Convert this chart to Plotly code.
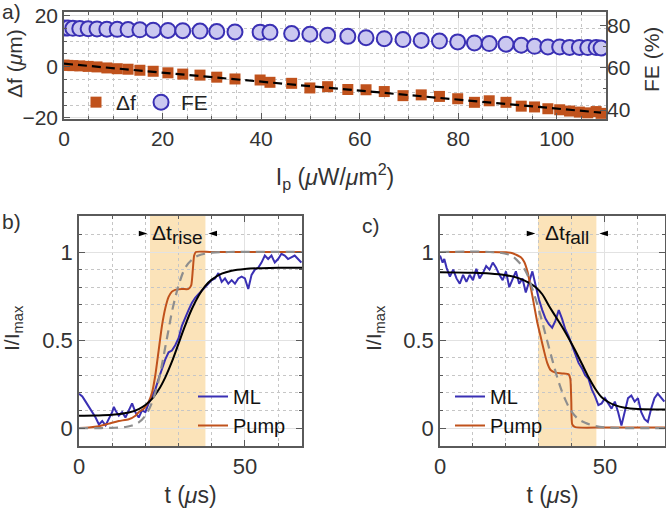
import numpy as np
import plotly.graph_objects as go

# ---------------- Panel a data ----------------
ip = [0, 0.8, 1.8, 3.2, 4.9, 6.7, 8.7, 10.8, 13.0, 15.4, 18.1, 21.1, 24.1, 27.6, 31.0, 34.7,
      39.8, 41.8, 46.2, 49.9, 53.5, 57.6, 61.3, 65.0, 68.8, 72.5, 76.2, 79.9, 83.3, 86.3,
      89.7, 92.8, 95.5, 98.2, 100.6, 102.6, 104.6, 106.3, 108.0, 109.0]
delta_f = [0.6, 0.5, 0.4, 0.3, 0.1, -0.1, -0.5, -0.8, -1.0, -1.4, -1.8, -2.4, -2.9, -3.3, -4.1,
           -4.8, -5.2, -6.1, -6.5, -8.3, -7.8, -8.9, -9.0, -9.7, -11.3, -11.0, -11.6, -12.5,
           -13.9, -13.3, -13.9, -15.4, -15.7, -16.4, -16.8, -17.3, -17.7, -18.0, -17.5, -18.2]
fe = [78.8, 78.7, 78.6, 78.5, 78.4, 78.3, 78.2, 78.1, 78.0, 77.9, 77.7, 77.6, 77.5, 77.3, 77.1,
      76.9, 76.8, 76.7, 76.1, 75.8, 75.3, 74.8, 74.2, 73.7, 73.3, 72.9, 72.6, 72.2, 71.7, 71.4,
      71.1, 70.6, 70.1, 69.8, 69.8, 69.6, 69.6, 69.5, 69.5, 69.3]

# ---------------- Panel b data (rise) ----------------
t_ml_b = [0, 1, 2, 3, 4, 5, 6, 7, 8, 9, 10, 10.5, 11, 12, 13, 14, 15, 16, 17, 18, 19, 20, 21,
          22, 23, 24, 25, 26, 27, 28, 29, 30, 31, 32, 33, 34, 35, 36, 37, 38, 39, 40, 41, 42,
          43, 44, 45, 46, 47, 48, 49, 50, 51, 52, 53, 54, 55, 56, 57, 58, 59, 60, 61, 62, 63,
          64, 65, 66, 67]
ml_b = [0.195, 0.18, 0.15, 0.12, 0.09, 0.06, 0.02, 0.04, 0.015, 0.05, 0.09, 0.12, 0.10, 0.07,
        0.09, 0.06, 0.10, 0.14, 0.09, 0.06, 0.10, 0.09, 0.14, 0.18, 0.22, 0.28, 0.34, 0.39,
        0.43, 0.44, 0.47, 0.51, 0.58, 0.63, 0.67, 0.71, 0.74, 0.76, 0.78, 0.80, 0.82, 0.84,
        0.85, 0.88, 0.83, 0.85, 0.82, 0.84, 0.82, 0.85, 0.86, 0.85, 0.79, 0.87, 0.90, 0.91,
        0.94, 0.98, 0.96, 0.98, 0.94, 0.96, 0.99, 0.98, 0.96, 0.97, 0.98, 0.96, 0.94]
t_pump_b = [0, 3, 6, 9, 12, 15, 17, 18, 19.5, 21, 22, 23, 24, 25, 26, 27, 28, 29, 31, 33,
            33.8, 34.3, 34.7, 35.2, 40, 67.2]
pump_b = [0.0, 0.003, 0.01, 0.025, 0.04, 0.05, 0.07, 0.09, 0.11, 0.15, 0.2, 0.3, 0.44, 0.58,
          0.68, 0.745, 0.775, 0.785, 0.79, 0.79, 0.81, 0.9, 0.98, 1.0, 1.0, 1.0]
t_fit_b = [0, 5, 10, 15, 18, 20, 22, 24, 26, 28, 30, 32, 34, 36, 38, 40, 43, 46, 50, 55, 60, 67.2]
fit_ml_b = [0.07, 0.071, 0.075, 0.088, 0.108, 0.131, 0.166, 0.217, 0.288, 0.377, 0.48, 0.583,
            0.676, 0.75, 0.806, 0.843, 0.877, 0.894, 0.904, 0.908, 0.91, 0.91]
t_fitp_b = [0, 5, 10, 14, 16, 18, 20, 22, 24, 25, 26, 27, 28, 29, 30, 32, 34, 36, 40, 45, 67.2]
fit_pump_b = [0.0, 0.0, 0.001, 0.006, 0.014, 0.032, 0.07, 0.145, 0.27, 0.36, 0.46, 0.56, 0.66,
              0.74, 0.81, 0.91, 0.956, 0.98, 0.996, 1.0, 1.0]
rise_window = [21.4, 38.1]

# ---------------- Panel c data (fall) ----------------
t_ml_c = [0, 0.8, 1.3, 2, 3, 4, 5, 6, 7, 8, 9, 10, 11, 12, 13, 14, 15, 16, 17, 18, 19, 20, 21,
          22, 23, 24, 25, 26, 27, 28, 29, 30, 31, 32, 33, 34, 35, 36, 37, 38, 39, 40, 41, 42,
          43, 44, 45, 46, 47, 48, 49, 50, 51, 52, 53, 54, 55, 56, 57, 58, 59, 60, 61, 62, 63,
          64, 65, 66, 67, 68]
ml_c = [0.98, 0.94, 0.96, 0.91, 0.86, 0.90, 0.85, 0.82, 0.87, 0.83, 0.87, 0.84, 0.905, 0.85,
        0.88, 0.92, 0.90, 0.94, 0.91, 0.87, 0.84, 0.89, 0.80, 0.84, 0.89, 0.82, 0.85, 0.77,
        0.83, 0.89, 0.81, 0.73, 0.67, 0.62, 0.59, 0.57, 0.61, 0.67, 0.62, 0.56, 0.52, 0.47,
        0.41, 0.37, 0.34, 0.30, 0.28, 0.22, 0.18, 0.13, 0.14, 0.17, 0.14, 0.11, 0.15, 0.09,
        0.015, 0.09, 0.17, 0.185, 0.15, 0.17, 0.09, 0.05, 0.035, 0.11, 0.17, 0.195, 0.17, 0.15]
t_pump_c = [0, 15, 20, 22, 23, 24.5, 25.5, 26.5, 27.5, 28.5, 29.5, 30.5, 31.5, 32.5, 33.5, 35,
            37, 39, 39.5, 39.8, 40.1, 41, 50, 68.2]
pump_c = [1.0, 1.0, 0.998, 0.993, 0.985, 0.97, 0.945, 0.89, 0.80, 0.70, 0.60, 0.52, 0.44, 0.37,
          0.33, 0.315, 0.31, 0.305, 0.28, 0.15, 0.02, 0.005, 0.003, 0.003]
t_fit_c = [0, 10, 15, 20, 24, 27, 29, 31, 33, 35, 37, 39, 41, 43, 45, 47, 49, 51, 53, 56, 60, 68.2]
fit_ml_c = [0.885, 0.882, 0.878, 0.868, 0.85, 0.825, 0.80, 0.76, 0.695, 0.635, 0.575, 0.51,
            0.44, 0.365, 0.29, 0.225, 0.175, 0.148, 0.13, 0.115, 0.108, 0.105]
t_fitp_c = [0, 15, 20, 22, 24, 26, 28, 30, 32, 34, 36, 38, 40, 42, 44, 47, 50, 55, 68.2]
fit_pump_c = [1.0, 1.0, 0.99, 0.975, 0.94, 0.89, 0.79, 0.67, 0.53, 0.39, 0.26, 0.16, 0.09,
              0.05, 0.03, 0.012, 0.004, 0.0, 0.0]
fall_window = [29.7, 47.4]

# ---------------- style ----------------
FONT = "Liberation Sans, Arial, sans-serif"
ORANGE = "#C0521C"
BLUE = "#3A30B4"
LAV = "#CBC8F0"
GRAY = "#8E8E8E"
W, H = 666, 510


def px_x(a, b):
    return [a / W, b / W]


def px_y(top, bottom):
    return [1 - bottom / H, 1 - top / H]


fig = go.Figure()

# Panel a
fig.add_trace(go.Scatter(x=ip, y=delta_f, mode="markers", name="Δf",
                         marker=dict(symbol="square", size=11, color=ORANGE),
                         xaxis="x", yaxis="y", legend="legend"))
coef = np.polyfit(ip, delta_f, 1)
fig.add_trace(go.Scatter(x=ip, y=np.polyval(coef, ip), mode="lines", showlegend=False,
                         line=dict(color="black", width=2.2, dash="9px,5px"),
                         xaxis="x", yaxis="y"))
fig.add_trace(go.Scatter(x=ip, y=fe, mode="markers", name="FE",
                         marker=dict(symbol="circle", size=15, color=LAV,
                                     line=dict(color=BLUE, width=2)),
                         xaxis="x", yaxis="y2", legend="legend"))

# Panel b
fig.add_trace(go.Scatter(x=t_ml_b, y=ml_b, mode="lines", name="ML",
                         line=dict(color=BLUE, width=2), xaxis="x3", yaxis="y3", legend="legend2"))
fig.add_trace(go.Scatter(x=t_pump_b, y=pump_b, mode="lines", name="Pump",
                         line=dict(color=ORANGE, width=2, shape="spline", smoothing=0.6),
                         xaxis="x3", yaxis="y3", legend="legend2"))
fig.add_trace(go.Scatter(x=t_fit_b, y=fit_ml_b, mode="lines", showlegend=False,
                         line=dict(color="black", width=2, shape="spline"), xaxis="x3", yaxis="y3"))
fig.add_trace(go.Scatter(x=t_fitp_b, y=fit_pump_b, mode="lines", showlegend=False,
                         line=dict(color=GRAY, width=2.2, dash="9px,6px", shape="spline"),
                         xaxis="x3", yaxis="y3"))

# Panel c
fig.add_trace(go.Scatter(x=t_ml_c, y=ml_c, mode="lines", name="ML",
                         line=dict(color=BLUE, width=2), xaxis="x4", yaxis="y4", legend="legend3"))
fig.add_trace(go.Scatter(x=t_pump_c, y=pump_c, mode="lines", name="Pump",
                         line=dict(color=ORANGE, width=2, shape="spline", smoothing=0.6),
                         xaxis="x4", yaxis="y4", legend="legend3"))
fig.add_trace(go.Scatter(x=t_fit_c, y=fit_ml_c, mode="lines", showlegend=False,
                         line=dict(color="black", width=2, shape="spline"), xaxis="x4", yaxis="y4"))
fig.add_trace(go.Scatter(x=t_fitp_c, y=fit_pump_c, mode="lines", showlegend=False,
                         line=dict(color=GRAY, width=2.2, dash="9px,6px", shape="spline"),
                         xaxis="x4", yaxis="y4"))

# arrowheads marking the windows
for win, xa, ya in [(rise_window, "x3", "y3"), (fall_window, "x4", "y4")]:
    fig.add_trace(go.Scatter(x=[win[0] - 0.8, win[1] + 0.9], y=[1.105, 1.105], mode="markers",
                             showlegend=False, hoverinfo="skip",
                             marker=dict(symbol="arrow", size=9, color="black", angle=[90, -90]),
                             xaxis=xa, yaxis=ya))

# shaded windows
shapes = []
for win, xr, yr in [(rise_window, "x3", "y3 domain"), (fall_window, "x4", "y4 domain")]:
    shapes.append(dict(type="rect", xref=xr, yref=yr, x0=win[0], x1=win[1], y0=0, y1=1,
                       fillcolor="#FBE3B9", line=dict(width=0), layer="below"))

tickfont_a = dict(size=21, color="#333333", family=FONT)
tickfont_b = dict(size=22, color="#333333", family=FONT)
titlefont = dict(size=23, color="#333333", family=FONT)
ytitlefont = dict(size=21, color="#333333", family=FONT)


def axis(domain, rng, dtick, minor_dtick, tickfont, mirror="ticks", grid=True, **kw):
    d = dict(domain=domain, range=rng, dtick=dtick, tick0=0, showline=True, linecolor="#5A5A5A",
             linewidth=1.5, mirror=mirror, ticks="inside", ticklen=6, tickwidth=1,
             tickcolor="#5A5A5A", showgrid=grid, gridcolor="#E2E2E2", gridwidth=1,
             zeroline=False, tickfont=tickfont, automargin=False, title_font=titlefont,
             minor=dict(dtick=minor_dtick, tick0=0, ticks="inside", ticklen=3, tickcolor="#5A5A5A",
                        showgrid=grid, gridcolor="#C6C6C6", griddash="dot", gridwidth=1))
    d.update(kw)
    return d


sub_style = "<span style='font-size:19px'>{}</span>"


def ytitle(text, xpx, ypx):
    return dict(text=text, x=xpx / W, y=1 - ypx / H, xref="paper", yref="paper",
                xanchor="center", yanchor="middle", textangle=-90, showarrow=False,
                font=ytitlefont)


layout = dict(
    width=W, height=H, margin=dict(l=0, r=0, t=0, b=0),
    paper_bgcolor="white", plot_bgcolor="white",
    font=dict(family=FONT, color="#333333"),
    xaxis=axis(px_x(64, 606), [0, 110], 20, 5, tickfont_a, anchor="y",
               title=dict(text="I<sub>p</sub> (<i>μ</i>W/<i>μ</i>m<sup>2</sup>)", standoff=20)),
    yaxis=axis(px_y(12, 119), [-20.4, 21.3], 20, 5, tickfont_a, mirror=True, anchor="x"),
    yaxis2=dict(overlaying="y", side="right", anchor="x", range=[35.8, 86.3], dtick=20, tick0=0,
                showgrid=False, zeroline=False, showline=False, ticks="inside", ticklen=6,
                tickcolor="#5A5A5A", tickfont=tickfont_a, automargin=False,
                minor=dict(dtick=10, ticks="inside", ticklen=3, tickcolor="#5A5A5A")),
    xaxis3=axis(px_x(79, 302), [0, 67.2], 50, 10, tickfont_b, anchor="y3",
                title=dict(text="t (<i>μ</i>s)", standoff=9)),
    yaxis3=axis(px_y(216, 446), [-0.102, 1.2045], 0.5, 0.1, tickfont_b, anchor="x3",
                tickvals=[0, 0.5, 1], ticktext=["0", "0.5", "1"]),
    xaxis4=axis(px_x(440, 665), [0, 68.2], 50, 10, tickfont_b, anchor="y4",
                title=dict(text="t (<i>μ</i>s)", standoff=9)),
    yaxis4=axis(px_y(216, 446), [-0.102, 1.2045], 0.5, 0.1, tickfont_b, anchor="x4",
                tickvals=[0, 0.5, 1], ticktext=["0", "0.5", "1"]),
    shapes=shapes,
    legend=dict(orientation="h", x=76 / W, y=1 - 82 / H, xanchor="left", yanchor="top",
                bgcolor="rgba(0,0,0,0)", font=dict(size=21, color="#222222", family=FONT),
                itemwidth=30),
    legend2=dict(x=193 / W, y=1 - 377 / H, xanchor="left", yanchor="top",
                 bgcolor="rgba(0,0,0,0)", font=dict(size=20, color="#111111", family=FONT),
                 tracegroupgap=0),
    legend3=dict(x=450 / W, y=1 - 377 / H, xanchor="left", yanchor="top",
                 bgcolor="rgba(0,0,0,0)", font=dict(size=20, color="#111111", family=FONT),
                 tracegroupgap=0),
    showlegend=True,
    annotations=[
        dict(text="a)", x=0, y=1.003, xref="paper", yref="paper", xanchor="left", yanchor="top",
             showarrow=False, font=dict(size=21, color="#333333", family=FONT)),
        dict(text="b)", x=0, y=1 - 208 / H, xref="paper", yref="paper", xanchor="left",
             yanchor="top", showarrow=False, font=dict(size=21, color="#333333", family=FONT)),
        dict(text="c)", x=360 / W, y=1 - 212 / H, xref="paper", yref="paper", xanchor="left",
             yanchor="top", showarrow=False, font=dict(size=21, color="#333333", family=FONT)),
        dict(text="Δt<sub>" + sub_style.format("rise") + "</sub>", x=sum(rise_window) / 2,
             y=1.10, xref="x3", yref="y3",
             showarrow=False, font=dict(size=21, color="#111111", family=FONT)),
        dict(text="Δt<sub>" + sub_style.format("fall") + "</sub>", x=sum(fall_window) / 2,
             y=1.10, xref="x4", yref="y4",
             showarrow=False, font=dict(size=21, color="#111111", family=FONT)),
        ytitle("Δf (<i>μ</i>m)", 14, 64),
        ytitle("FE (%)", 651, 60),
        ytitle("I/I<sub>max</sub>", 13, 328),
        ytitle("I/I<sub>max</sub>", 375, 328),
    ],
)
fig.update_layout(**layout)
fig.write_html("out.html", config={"displayModeBar": False},
               post_script="document.body.style.margin='0';document.body.style.overflow='hidden';")
